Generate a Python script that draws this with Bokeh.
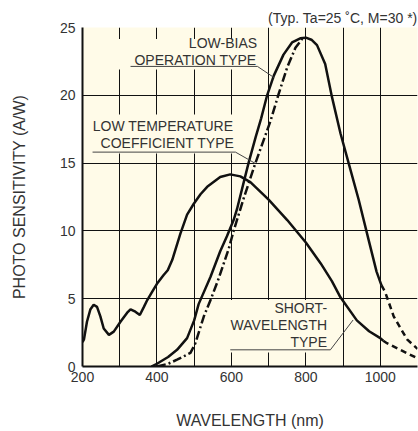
from bokeh.plotting import figure
from bokeh.models import FixedTicker, Range1d
from bokeh.core.properties import value
from bokeh.embed import file_html
from bokeh.resources import INLINE

FONT = "Liberation Sans"
BG = "#FFFBE8"
INK = "#111111"
TXT = "#333333"

# ---- data ----
x_ticks = [200, 400, 600, 800, 1000]
x_minor = [300, 500, 700, 900, 1100]
y_ticks = [0, 5, 10, 15, 20, 25]

# Short-wavelength type (solid part, then dashed tail)
sw_wl = [200, 204, 212, 221, 230, 239, 248, 257, 271, 284, 302, 320, 329, 342, 354,
         365, 374, 387, 400, 418, 429, 441, 463, 481, 499, 517, 535, 570, 597, 624,
         651, 700, 750, 800, 840, 870, 893, 937, 970, 1000, 1008]
sw_val = [1.8, 2.0, 3.3, 4.2, 4.55, 4.4, 3.7, 2.8, 2.33, 2.57, 3.3, 3.97, 4.22, 4.04, 3.8,
          4.4, 4.9, 5.5, 6.1, 6.75, 7.1, 7.85, 9.8, 11.2, 12.0, 12.7, 13.25, 13.97, 14.17, 14.02,
          13.6, 12.3, 10.8, 9.15, 7.6, 6.3, 5.1, 3.4, 2.6, 2.09, 1.9]
sw_tail_wl = [1008, 1018, 1054, 1100]
sw_tail_val = [1.9, 1.72, 1.23, 0.6]

# Low-bias operation type (solid, then dashed tail)
lb_wl = [385, 400, 430, 454, 481, 500, 512, 544, 570, 588, 606, 615, 646, 665, 680, 696,
         714, 740, 763, 785, 800, 815, 830, 852, 870, 893, 915, 942, 969, 990, 1003]
lb_val = [0.0, 0.2, 0.7, 1.23, 2.09, 3.4, 4.6, 6.62, 8.5, 9.6, 10.8, 11.6, 15.0, 16.9, 18.3, 20.0,
          21.45, 23.0, 23.9, 24.2, 24.25, 24.1, 23.7, 22.3, 19.9, 17.2, 15.0, 12.3, 9.3, 7.0, 6.0]
lb_tail_wl = [1003, 1013, 1036, 1072, 1100]
lb_tail_val = [6.0, 5.5, 3.7, 2.0, 1.3]

# Low temperature coefficient type (dash-dot, joins the peak)
lt_wl = [400, 430, 454, 490, 503, 526, 544, 566, 593, 606, 633, 664, 705, 727, 750, 772, 790, 800]
lt_val = [0.0, 0.2, 0.5, 1.0, 1.7, 3.7, 4.9, 6.5, 8.7, 10.0, 12.4, 14.96, 18.1, 20.1, 22.06, 23.5, 24.15, 24.25]

p = figure(width=418, height=431, output_backend="svg", toolbar_location=None,
           x_range=Range1d(200, 1100), y_range=Range1d(0, 25),
           min_border_left=82, min_border_right=1, min_border_top=27, min_border_bottom=64)
p.background_fill_color = BG
p.border_fill_color = "white"
p.outline_line_color = None

p.title.text = "(Typ. Ta=25 ˚C, M=30 *)"
p.title.align = "right"
p.title.text_font = FONT
p.title.text_font_size = "14px"
p.title.text_font_style = "normal"
p.title.text_color = TXT
p.title.standoff = 3
p.title.offset = 0

for ax in (p.xaxis[0], p.yaxis[0]):
    ax.axis_line_color = INK
    ax.axis_line_width = 2
    ax.major_tick_in = 0
    ax.major_tick_out = 0
    ax.minor_tick_in = 0
    ax.minor_tick_out = 0
    ax.major_label_text_font = FONT
    ax.major_label_text_font_size = "14px"
    ax.major_label_text_color = TXT
    ax.axis_label_text_font = FONT
    ax.axis_label_text_font_size = "16px"
    ax.axis_label_text_font_style = "normal"
    ax.axis_label_text_color = TXT

p.xaxis.ticker = FixedTicker(ticks=x_ticks, minor_ticks=x_minor)
p.yaxis.ticker = FixedTicker(ticks=y_ticks)
p.xaxis.major_label_standoff = 5
p.yaxis.major_label_standoff = 7
p.xaxis.axis_label = "WAVELENGTH (nm)"
p.yaxis.axis_label = "PHOTO SENSITIVITY (A/W)"
p.xaxis.axis_label_standoff = 27
p.yaxis.axis_label_standoff = 29

p.xgrid.grid_line_color = INK
p.xgrid.grid_line_width = 1
p.xgrid.minor_grid_line_color = INK
p.xgrid.minor_grid_line_width = 1
p.ygrid.grid_line_color = INK
p.ygrid.grid_line_width = 1

# label boxes that mask the grid
box_l = [280, 221, 592]
box_r = [672, 616, 876]
box_t = [24.16, 18.58, 4.9]
box_b = [21.9, 15.71, 1.04]
p.quad(left=box_l, right=box_r, top=box_t, bottom=box_b, fill_color=BG, line_color=None)

# curves
LW = 2.5
p.line(sw_wl, sw_val, line_color=INK, line_width=LW)
p.line(sw_tail_wl, sw_tail_val, line_color=INK, line_width=LW, line_dash="6 4")
p.line(lt_wl, lt_val, line_color=INK, line_width=LW, line_dash="9 3 2 3")
p.line(lb_wl, lb_val, line_color=INK, line_width=LW)
p.line(lb_tail_wl, lb_tail_val, line_color=INK, line_width=LW, line_dash="6 4")

# leader lines (underline + pointer)
leaders = [
    ([329, 670, 715], [22.13, 22.13, 21.3]),
    ([227, 611, 664], [15.81, 15.81, 14.98]),
    ([597, 866, 927], [1.23, 1.23, 3.43]),
]
for lx, ly in leaders:
    p.line(lx, ly, line_color="#444444", line_width=1)

# annotation texts
txt_x = [669, 667, 605, 608, 857, 857, 857]
txt_y = [23.88, 22.63, 17.7, 16.45, 4.32, 3.07, 1.82]
txt_s = ["LOW-BIAS", "OPERATION TYPE", "LOW TEMPERATURE", "COEFFICIENT TYPE",
         "SHORT-", "WAVELENGTH", "TYPE"]
p.text(txt_x, txt_y, text=txt_s, text_align="right", text_baseline="middle",
       text_font=value(FONT), text_font_size="14px", text_color=TXT)

open("out.html", "w").write(file_html(p, INLINE))
